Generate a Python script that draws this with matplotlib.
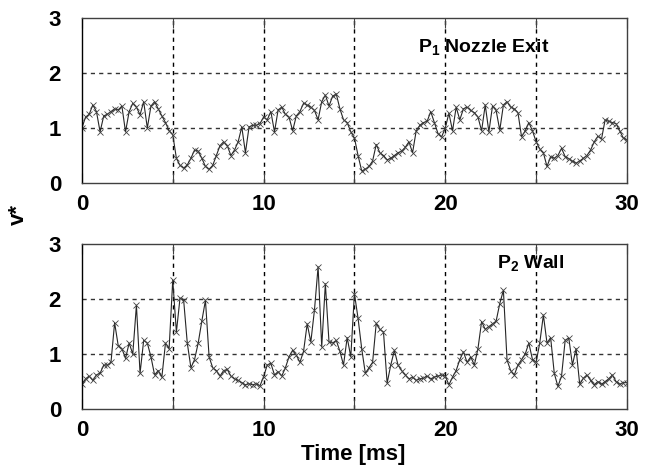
import matplotlib
matplotlib.use('Agg')
import matplotlib.pyplot as plt
import numpy as np

plt.rcParams['font.family'] = ['Liberation Sans', 'DejaVu Sans']
plt.rcParams['font.weight'] = 'bold'
plt.rcParams['mathtext.fontset'] = 'custom'
plt.rcParams['mathtext.rm'] = 'Liberation Sans:bold'
plt.rcParams['mathtext.it'] = 'Liberation Sans:bold'
plt.rcParams['mathtext.bf'] = 'Liberation Sans:bold'

# sample times [ms], one every 0.2 ms
time_ms = np.arange(151) * 0.2

# P1 nozzle exit, v*
v_nozzle = [
    1.0, 1.2, 1.25, 1.42, 1.3, 0.93, 1.22, 1.25, 1.3, 1.35,
    1.33, 1.4, 0.93, 1.3, 1.45, 1.38, 1.24, 1.48, 1.0, 1.4,
    1.48, 1.35, 1.22, 1.1, 0.95, 0.88, 0.45, 0.32, 0.27, 0.33,
    0.45, 0.6, 0.58, 0.45, 0.3, 0.25, 0.32, 0.5, 0.68, 0.75,
    0.68, 0.5, 0.6, 0.75, 1.02, 0.55, 1.02, 1.05, 1.05, 1.08,
    1.2, 1.15, 1.3, 0.93, 1.33, 1.38, 1.25, 1.2, 0.95, 1.22,
    1.3, 1.45, 1.42, 1.38, 1.32, 1.15, 1.48, 1.6, 1.4, 1.58,
    1.62, 1.35, 1.15, 1.1, 0.93, 0.82, 0.5, 0.22, 0.25, 0.3,
    0.4, 0.7, 0.55, 0.5, 0.42, 0.45, 0.5, 0.55, 0.58, 0.65,
    0.75, 0.55, 0.95, 1.05, 1.1, 1.12, 1.3, 1.1, 0.9, 0.84,
    1.0, 1.27, 0.95, 1.38, 1.15, 1.35, 1.38, 1.32, 1.28, 1.2,
    0.95, 1.42, 0.93, 1.4, 1.32, 0.96, 1.42, 1.48, 1.38, 1.35,
    1.28, 0.84, 0.95, 1.1, 0.95, 0.75, 0.62, 0.55, 0.3, 0.48,
    0.45, 0.5, 0.63, 0.48, 0.44, 0.4, 0.36, 0.4, 0.45, 0.5,
    0.6, 0.75, 0.85, 0.8, 1.15, 1.12, 1.1, 1.08, 0.95, 0.82,
    0.78,
]

# P2 wall
v_wall = [
    0.45, 0.55, 0.6, 0.52, 0.62, 0.65, 0.8, 0.8, 0.85, 1.57,
    1.15, 1.1, 0.92, 1.2, 1.0, 1.89, 0.65, 1.25, 1.2, 0.95,
    0.62, 0.7, 0.58, 1.2, 1.1, 2.35, 1.4, 2.02, 1.98, 1.2,
    0.75, 0.9, 1.2, 1.6, 1.98, 0.95, 0.75, 0.7, 0.6, 0.7,
    0.72, 0.6, 0.55, 0.52, 0.48, 0.44, 0.46, 0.44, 0.46, 0.42,
    0.59, 0.8, 0.83, 0.62, 0.68, 0.6, 0.75, 0.95, 1.07, 0.98,
    0.85, 1.05, 1.55, 1.22, 1.8, 2.59, 1.13, 2.28, 1.22, 1.2,
    1.25, 1.05, 0.8, 1.3, 0.95, 2.1, 1.65, 1.1, 0.65, 0.75,
    0.85, 1.56, 1.45, 1.4, 0.47, 0.8, 1.07, 0.8, 0.7, 0.62,
    0.55, 0.58, 0.52, 0.55, 0.56, 0.6, 0.55, 0.58, 0.6, 0.62,
    0.6, 0.44, 0.58, 0.7, 0.9, 1.04, 0.85, 0.95, 0.8, 1.1,
    1.59, 1.45, 1.5, 1.55, 1.6, 1.92, 2.16, 0.89, 0.7, 0.62,
    0.8, 0.9, 1.0, 1.2, 0.9, 0.85, 1.2, 1.71, 1.2, 1.3,
    0.65, 0.41, 0.6, 1.25, 1.29, 0.8, 1.1, 0.45, 0.56, 0.62,
    0.52, 0.44, 0.5, 0.45, 0.5, 0.55, 0.62, 0.5, 0.45, 0.48,
    0.48,
]

x_ticks = [0, 10, 20, 30]
y_ticks = [0, 1, 2, 3]
panels = [(v_nozzle, 'P$_1$ Nozzle Exit', 18.5, 2.47),
          (v_wall, 'P$_2$ Wall', 22.85, 2.65)]

fig = plt.figure(figsize=(6.45, 4.71), dpi=100)
ax_top = fig.add_axes([0.127, 0.6115, 0.845, 0.350])
ax_bot = fig.add_axes([0.127, 0.1316, 0.845, 0.350])

for ax, (values, label, lx, ly) in zip([ax_top, ax_bot], panels):
    ax.plot(time_ms, values, color='0.15', lw=0.8, marker='x',
            markersize=4, markeredgewidth=0.6, markeredgecolor='0.25')
    ax.set_xlim(0, 30)
    ax.set_ylim(0, 3)
    # dashed grid every 5 ms and every unit of v*
    for g in [5, 10, 15, 20, 25]:
        ax.axvline(g, color='black', lw=1.0, ls=(0, (3, 3)), zorder=0)
    for g in [1, 2]:
        ax.axhline(g, color='0.2', lw=1.0, ls=(0, (3, 3)), zorder=0)
    ax.set_xticks(np.arange(0, 31, 5))
    ax.set_xticklabels(['0', '', '10', '', '20', '', '30'])
    ax.set_yticks(y_ticks)
    ax.tick_params(axis='x', direction='in', length=7, width=0.8,
                   top=True, labelsize=16, pad=8, color='0.25')
    ax.tick_params(axis='y', direction='in', length=0, labelsize=16, pad=15)
    for s in ax.spines.values():
        s.set_color('0.25')
        s.set_linewidth(1.0)
    ax.spines['left'].set_color('black')
    ax.text(lx, ly, label, fontsize=14, fontweight='bold', va='center')

fig.text(0.028, 0.545, 'v*', rotation=90, fontsize=16, fontweight='bold',
         ha='center', va='center')
fig.text(0.548, 0.034, 'Time [ms]', fontsize=16, fontweight='bold',
         ha='center', va='center')

fig.savefig('out.png', dpi=100)
